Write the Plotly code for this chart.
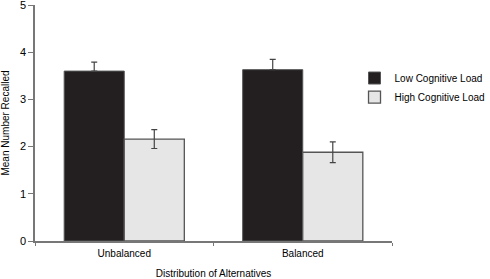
import plotly.graph_objects as go

categories = ["Unbalanced", "Balanced"]
low_load = [3.60, 3.63]
low_err = [0.19, 0.22]
high_load = [2.16, 1.88]
high_err = [0.20, 0.22]
y_ticks = [0, 1, 2, 3, 4, 5]

font_family = "Liberation Sans, Arial, sans-serif"

fig = go.Figure()
fig.add_trace(go.Bar(
    x=categories, y=low_load, name="Low Cognitive Load",
    marker=dict(color="#231f20", line=dict(color="#555555", width=1)),
    error_y=dict(type="data", symmetric=False, array=low_err, arrayminus=[0 for _ in low_err],
                 visible=True, color="#444444", thickness=1.2, width=3),
))
fig.add_trace(go.Bar(
    x=categories, y=high_load, name="High Cognitive Load",
    marker=dict(color="#e6e6e6", line=dict(color="#555555", width=1.3)),
    error_y=dict(type="data", array=high_err, visible=True, color="#444444", thickness=1.2, width=3),
))

fig.update_layout(
    width=490, height=279,
    margin=dict(l=35, r=98, t=5, b=37.5, autoexpand=False),
    paper_bgcolor="white", plot_bgcolor="white",
    barmode="group", bargap=0.327, bargroupgap=0,
    font=dict(family=font_family, size=10, color="#000000"),
    showlegend=True,
    legend=dict(x=0.895, y=0.752, xanchor="left", yanchor="top",
                font=dict(size=10, color="#000000"),
                itemwidth=30, tracegroupgap=0, bgcolor="rgba(0,0,0,0)"),
    xaxis=dict(
        showline=True, linecolor="#777777", linewidth=1.5,
        ticks="outside", tickson="boundaries", ticklen=3, tickcolor="#777777",
        tickfont=dict(size=10, color="#000000"), ticklabelstandoff=2,
        title=dict(text="Distribution of Alternatives", font=dict(size=10), standoff=18),
        showgrid=False, zeroline=False, automargin=False,
    ),
    yaxis=dict(
        range=[0, 5], tickvals=y_ticks, ticktext=[str(v) for v in y_ticks],
        showline=True, linecolor="#777777", linewidth=1.5,
        ticks="outside", ticklen=5, tickcolor="#777777",
        tickfont=dict(size=11, color="#000000"), ticklabeloverflow="allow",
        title=dict(text="Mean Number Recalled", font=dict(size=10), standoff=12),
        showgrid=False, zeroline=False, automargin=False,
    ),
)

fig.write_html("out.html", config={"displayModeBar": False},
               post_script="document.body.style.margin='0px';")
